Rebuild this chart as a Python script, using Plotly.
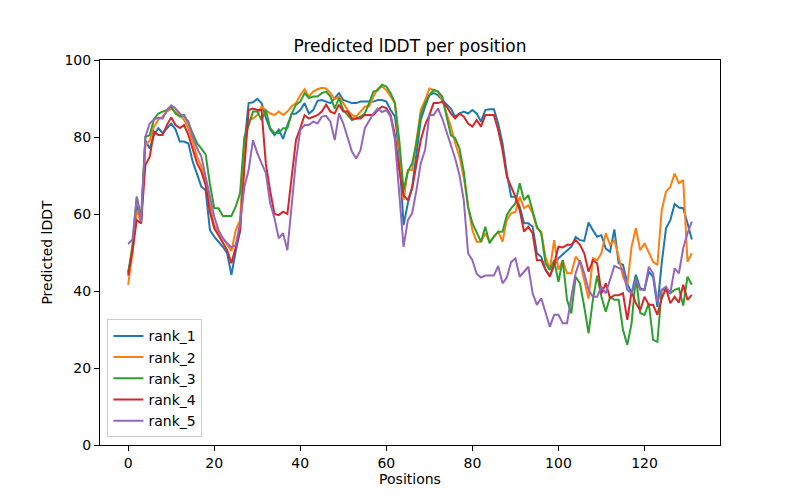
import plotly.graph_objects as go

positions = list(range(132))

rank_1 = [45, 50, 62, 57.5, 79, 77, 80.5, 82.3, 81, 82.3, 83.5, 82, 78.8, 78.8, 78.3, 73.6, 70.6, 67.1, 66.2, 55.8,
          54.1, 52.8, 51.5, 49.8, 44.2, 50.4, 55.6, 78, 88.8, 89, 89.9, 88.8, 85, 82, 80.5, 81.9, 79.5, 83, 86, 86.1,
          87, 88.8, 86.1, 87, 89.4, 89.6, 89.2, 88.8, 90.1, 91.4, 89.6, 89.2, 88.8, 88.8, 89.2, 89.2, 89.2, 89.2, 89.6, 89.6,
          89.2, 87, 85.3, 75.8, 57.1, 62.8, 67, 75.8, 84.4, 87.9, 90.9, 91.4, 90.9, 89.6, 88.4, 87.4, 85.3, 86.1, 86.6, 86.1,
          87, 86.1, 84, 87, 87.2, 87.2, 83.5, 78.4, 70.6, 64.5, 64.5, 61.9, 57.6, 57.6, 56.7, 49.8, 48.9, 45.5, 44, 46.5,
          48.5, 49.5, 50.5, 51.5, 54, 53.2, 53, 57.8, 55.8, 54.1, 54.5, 51, 50.2, 56, 47.2, 46.8, 42, 39.4, 44.2, 40.7,
          40.3, 45, 43.7, 35.9, 47.2, 56.3, 58.4, 62.6, 61.7, 61.5, 57.6, 53.4]

rank_2 = [41.6, 50, 61, 58, 78, 79, 82.7, 84.5, 85.3, 86.6, 87.4, 86.6, 85.7, 84.4, 82.3, 78.8, 74.9, 72.3, 68.8, 62.3,
          57.1, 55.4, 53.7, 51.9, 50.4, 55.8, 58.4, 76, 84.4, 84.8, 85.7, 87.9, 87, 86.1, 85.7, 86.6, 85.7, 86.6, 88, 88.8,
          90.9, 92.4, 90.5, 91.8, 92.4, 92.8, 92.6, 91.4, 89.8, 90.5, 88.8, 87, 85.7, 85.3, 86.6, 87.9, 87.9, 90.5, 92.6, 93.1,
          92.2, 90.5, 88.8, 77.5, 63.6, 71.4, 71.4, 79.2, 87, 89.6, 92.6, 92.2, 91.8, 89.6, 86.1, 82.7, 78.4, 74.9, 69.5, 61.9,
          55.8, 52.8, 52.8, 55, 52.8, 54.1, 55.4, 52.8, 58.4, 60.2, 60.6, 64.5, 61.5, 62.3, 60.2, 56.3, 55.4, 48.9, 45.5, 53.2,
          45.5, 48, 44.6, 44.6, 48.9, 47.5, 42.5, 38, 48.5, 48, 49.8, 55, 52, 53.2, 48.9, 43.7, 41.5, 51.5, 56.3, 50.6,
          52.4, 50.2, 47.6, 46.8, 61, 65.8, 67, 70.5, 68, 68.8, 47.6, 49.8]

rank_3 = [44.5, 52, 64.5, 59, 80, 80.5, 84.6, 86.1, 86.6, 87, 87.9, 86.1, 85.3, 85.7, 83.5, 81, 78.4, 77, 75.5, 67.8,
          61.5, 61.5, 59.5, 59.5, 59.5, 62, 65.4, 80, 83, 86.6, 86.6, 84.4, 87, 82.3, 81, 81, 82.3, 82.3, 86.1, 88.4,
          89.2, 91.4, 90.1, 90.5, 90.5, 91.4, 91.8, 90.5, 87.4, 90.1, 87, 85.7, 84.4, 84.8, 85.3, 86.1, 88.8, 91.8, 92.1, 93.6,
          93.1, 91.4, 88.8, 79.2, 66.2, 71, 73.2, 78.4, 85.7, 88.8, 90.9, 92.2, 91.8, 90.5, 85.3, 80.5, 79.7, 77, 71, 61.9,
          57.6, 55, 52.8, 56.7, 52.4, 54.1, 55.4, 55.4, 59.7, 61.5, 62.8, 68, 63.6, 64.9, 61, 56.7, 55, 47.2, 45.5, 48,
          42.4, 48, 37.7, 34.2, 43.7, 42, 35.9, 29, 37.7, 44, 38.5, 34.6, 38.5, 37.7, 37.7, 29.9, 26, 31.6, 43.7, 34.3,
          33.8, 36.8, 27.3, 26.8, 40.3, 40.3, 39.4, 40.3, 40.7, 36.2, 43.7, 41.6]

rank_4 = [44, 50.6, 58.4, 57.6, 72.7, 74.8, 81.4, 80.5, 80.5, 83.1, 85.1, 83.1, 82.3, 83.1, 80.5, 76.6, 73.2, 71, 67.5, 60.6,
          56.3, 54.5, 52.4, 50.6, 47.2, 51.3, 55.6, 72, 87, 87.4, 87, 87, 73, 66, 60, 59.7, 60.6, 60, 69, 79.2,
          82.3, 85.7, 84.8, 85.3, 85.7, 86.6, 88.4, 86.6, 86.1, 88.4, 86.6, 86.6, 84.8, 84.8, 84.8, 85.7, 85.7, 85.7, 87, 87.9,
          87.5, 85.7, 80.5, 71.4, 64.9, 63.6, 66.6, 73.2, 79.2, 83.1, 85.7, 88.8, 88.8, 89.2, 87.9, 86.1, 84.8, 86.1, 85.3, 83.5,
          82.7, 84.4, 82.7, 85.7, 85.7, 85.7, 81.8, 76.6, 69.7, 67, 64.5, 61, 55.4, 56.7, 55, 48, 48, 45.5, 43.7, 47,
          51.5, 51.3, 52, 52, 53.2, 52, 49.8, 45, 48, 47.2, 39.4, 42, 38.1, 38.9, 38.9, 39.4, 32.5, 39.8, 36.8, 35,
          38.5, 36.4, 36.4, 33.8, 38.1, 40.7, 36.8, 38.5, 37, 41.6, 37.7, 39]

rank_5 = [52.2, 53.4, 64.5, 58, 80, 83.5, 84.6, 85, 84.8, 87, 88.2, 87.4, 86.1, 85.3, 84, 80.1, 77.1, 74.9, 69.7, 64.5,
          59.3, 55.8, 53.7, 52.4, 51.3, 52, 57.6, 67, 71.4, 79.2, 75.8, 73.2, 70.6, 62.8, 58.9, 53.7, 55, 50.6, 62.8, 74,
          81.8, 83.1, 83.1, 84, 83.5, 85.3, 85.5, 84, 79.2, 86.1, 83.5, 80, 76.2, 74.4, 76.6, 82.3, 84.4, 86.1, 87.4, 86.5,
          87, 85.3, 79.2, 65.3, 51.5, 58.4, 60.2, 66.2, 73.2, 76.6, 85.7, 85.7, 87.4, 84.8, 81.3, 77.9, 74.4, 70.1, 63.6, 49.8,
          48, 44.5, 43.5, 44, 44, 44, 46.5, 42, 43.5, 47.5, 48.5, 43.7, 45, 46.3, 39.4, 36.4, 38.1, 34.2, 30.7, 33.8,
          33.8, 31.6, 31.6, 38.5, 44.6, 48, 44.6, 40.3, 38.5, 38.5, 41.1, 39.4, 42.9, 46.5, 46, 45.5, 40.3, 39.4, 42.9, 40.3,
          40.3, 46.3, 44.6, 37.2, 40.3, 41.1, 39.4, 45.9, 44.6, 51.1, 55, 58]

series_names = ["rank_1", "rank_2", "rank_3", "rank_4", "rank_5"]
series_values = [rank_1, rank_2, rank_3, rank_4, rank_5]
colors = ["#1f77b4", "#ff7f0e", "#2ca02c", "#d62728", "#9467bd"]

x_ticks = [0, 20, 40, 60, 80, 100, 120]
y_ticks = [0, 20, 40, 60, 80, 100]

fig = go.Figure()
for name, vals, c in zip(series_names, series_values, colors):
    fig.add_trace(go.Scatter(x=positions, y=vals, mode="lines", name=name,
                             line=dict(color=c, width=2)))

font = "DejaVu Sans, sans-serif"
fig.update_layout(
    width=800, height=500,
    margin=dict(l=92, r=88, t=52, b=63),
    paper_bgcolor="white", plot_bgcolor="white",
    font=dict(family=font, size=14, color="black"),
    title=dict(text="Predicted lDDT per position", x=0.5, xref="paper", xanchor="center",
               y=1 - 38 / 500, yref="container", yanchor="middle",
               font=dict(size=17, family=font, color="black")),
    showlegend=True,
    legend=dict(x=0.012, y=0.02, xanchor="left", yanchor="bottom",
                bgcolor="rgba(255,255,255,0.8)", bordercolor="#cccccc", borderwidth=1,
                font=dict(size=14, family=font), tracegroupgap=0),
    xaxis=dict(range=[-6.55, 137.55], tickvals=x_ticks, ticks="outside", ticklen=5,
               tickcolor="black", showline=True, linecolor="black", linewidth=1, mirror=True,
               showgrid=False, zeroline=False,
               title=dict(text="Positions", standoff=4, font=dict(size=14))),
    yaxis=dict(range=[0, 100], tickvals=y_ticks, ticks="outside", ticklen=5,
               tickcolor="black", showline=True, linecolor="black", linewidth=1, mirror=True,
               showgrid=False, zeroline=False,
               title=dict(text="Predicted lDDT", standoff=8, font=dict(size=14))),
)

fig.write_html("out.html")
